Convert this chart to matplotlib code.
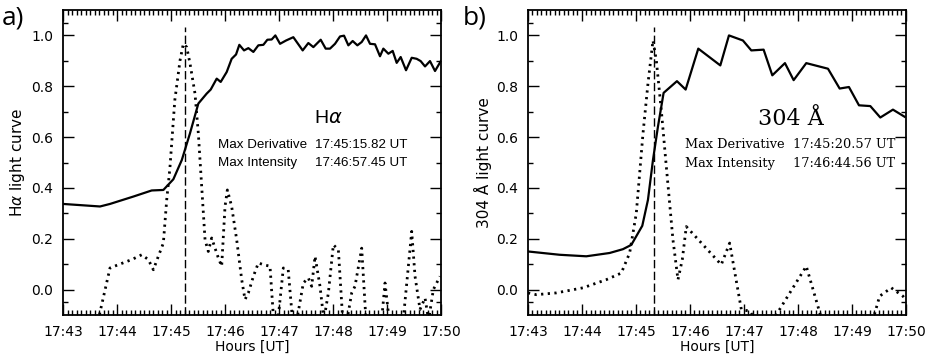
import numpy as np
import matplotlib.pyplot as plt
from matplotlib.ticker import MultipleLocator, FixedLocator

# time in minutes after 17:43 UT
tick_labels = ['17:43', '17:44', '17:45', '17:46', '17:47', '17:48', '17:49', '17:50']

# H-alpha light curve (solid)
ha_t = [0.0, 0.685, 0.870, 1.302, 1.642, 1.858, 2.043, 2.20, 2.35, 2.506, 2.660, 2.735, 2.846,
        2.920, 3.031, 3.123, 3.204, 3.265, 3.352, 3.432, 3.525, 3.617, 3.710, 3.784, 3.864,
        3.932, 4.019, 4.130, 4.265, 4.438, 4.543, 4.636, 4.772, 4.864, 4.944, 5.037, 5.130,
        5.204, 5.284, 5.364, 5.451, 5.531, 5.611, 5.685, 5.778, 5.870, 5.932, 6.025, 6.105,
        6.179, 6.253, 6.352, 6.457, 6.549, 6.623, 6.704, 6.796, 6.889, 6.994]
ha_v = [0.337, 0.327, 0.337, 0.366, 0.390, 0.392, 0.434, 0.51, 0.614, 0.732, 0.771, 0.787, 0.830,
        0.817, 0.856, 0.908, 0.925, 0.963, 0.941, 0.950, 0.935, 0.961, 0.963, 0.983, 0.984,
        1.000, 0.967, 0.980, 0.993, 0.941, 0.970, 0.954, 0.983, 0.948, 0.948, 0.967, 0.996,
        0.999, 0.961, 0.978, 0.961, 0.974, 1.000, 0.967, 0.965, 0.918, 0.948, 0.928, 0.939,
        0.892, 0.915, 0.863, 0.912, 0.908, 0.899, 0.878, 0.899, 0.860, 0.898]

# H-alpha derivative (dotted)
had_t = [0.62, 0.870, 1.025, 1.272, 1.457, 1.580, 1.673, 1.765, 1.858, 1.920, 1.98, 2.07, 2.167,
         2.228, 2.29, 2.352, 2.444, 2.506, 2.568, 2.63, 2.69, 2.753, 2.815, 2.877, 2.938, 3.0,
         3.043, 3.123, 3.216, 3.309, 3.37, 3.432, 3.525, 3.617, 3.71, 3.833, 3.90, 3.98, 4.08,
         4.17, 4.25, 4.33, 4.45, 4.543, 4.605, 4.667, 4.759, 4.83, 4.914, 5.006, 5.099, 5.18,
         5.26, 5.346, 5.407, 5.531, 5.61, 5.70, 5.80, 5.90, 5.963, 6.04, 6.15, 6.30, 6.457,
         6.519, 6.611, 6.704, 6.77, 6.858, 6.981]
had_v = [-0.15, 0.085, 0.098, 0.118, 0.137, 0.118, 0.078, 0.131, 0.183, 0.353, 0.48, 0.745, 0.902,
         0.967, 0.954, 0.889, 0.771, 0.614, 0.405, 0.196, 0.150, 0.203, 0.163, 0.124, 0.092, 0.327,
         0.392, 0.327, 0.196, 0.039, -0.039, -0.013, 0.052, 0.105, 0.098, 0.092, -0.12, -0.12, 0.085,
         0.078, -0.12, -0.12, 0.026, 0.046, 0.013, 0.131, 0.013, -0.12, -0.013, 0.176, 0.157, -0.12,
         -0.12, -0.013, 0.013, 0.163, -0.12, -0.15, -0.15, -0.12, 0.026, -0.12, -0.15, -0.12, 0.229,
         0.052, -0.078, -0.033, -0.12, 0.0, 0.052]

# 304 A light curve (solid)
he_t = [0.0, 0.586, 1.08, 1.512, 1.759, 1.914, 2.117, 2.222, 2.315, 2.407, 2.512, 2.759, 2.920,
        3.154, 3.562, 3.722, 3.981, 4.136, 4.364, 4.525, 4.759, 4.920, 5.154, 5.556, 5.772,
        5.944, 6.130, 6.340, 6.525, 6.759, 6.975]
he_v = [0.150, 0.137, 0.131, 0.144, 0.159, 0.176, 0.251, 0.353, 0.510, 0.641, 0.774, 0.820, 0.787,
        0.948, 0.882, 1.000, 0.980, 0.941, 0.944, 0.843, 0.891, 0.824, 0.891, 0.869, 0.791,
        0.797, 0.725, 0.722, 0.677, 0.708, 0.680]

# 304 A derivative (dotted)
hed_t = [0.0, 0.154, 0.525, 1.019, 1.45, 1.728, 1.883, 2.006, 2.13, 2.222, 2.315, 2.377, 2.469,
         2.562, 2.685, 2.778, 2.858, 2.932, 3.58, 3.735, 3.951, 4.105, 4.25, 4.50, 4.66, 5.154,
         5.43, 5.8, 6.2, 6.42, 6.512, 6.728, 6.944, 7.0]
hed_v = [-0.013, -0.02, -0.013, 0.007, 0.039, 0.065, 0.144, 0.30, 0.614, 0.81, 0.980, 0.902, 0.706,
         0.484, 0.196, 0.039, 0.118, 0.248, 0.098, 0.183, -0.078, -0.085, -0.13, -0.13, -0.078, 0.092,
         -0.11, -0.15, -0.15, -0.095, -0.026, 0.007, -0.026, -0.04]

# max derivative times (seconds after 17:45)
ha_deriv_t = 2 + 15.82 / 60
he_deriv_t = 2 + 20.57 / 60

tick_font = 'DejaVu Sans'
note_font = 'Liberation Sans'
serif_font = 'DejaVu Serif'

fig = plt.figure(figsize=(9.31, 3.61), dpi=100)
ax1 = fig.add_axes([0.0677, 0.1274, 0.406, 0.8449])
ax2 = fig.add_axes([0.5671, 0.1274, 0.406, 0.8449])


def style(ax, ylabel):
    ax.set_xlim(0, 7)
    ax.set_ylim(-0.1, 1.1)
    ax.xaxis.set_minor_locator(MultipleLocator(5 / 60))
    ax.yaxis.set_minor_locator(FixedLocator([-0.05, 0.1, 0.3, 0.5, 0.7, 0.9, 1.05]))
    ax.set_xticks(range(8))
    ax.set_xticklabels(tick_labels)
    ax.set_yticks([0.0, 0.2, 0.4, 0.6, 0.8, 1.0])
    ax.set_yticklabels(['0.0', '0.2', '0.4', '0.6', '0.8', '1.0'])
    ax.tick_params(which='both', direction='in', top=True, right=True, width=1.0)
    ax.tick_params(which='major', length=8, labelsize=10, pad=7)
    ax.tick_params(which='minor', length=3.5)
    for lab in ax.get_xticklabels() + ax.get_yticklabels():
        lab.set_family(tick_font)
    for sp in ax.spines.values():
        sp.set_linewidth(1.3)
    ax.set_xlabel('Hours [UT]', fontsize=10, family=tick_font, labelpad=1)
    ax.set_ylabel(ylabel, fontsize=11, family=tick_font, labelpad=3)


ax1.plot(ha_t, ha_v, color='black', lw=1.6)
ax1.plot(had_t, had_v, color='black', lw=2.0, linestyle=(0, (0.8, 1.6)))
ax1.plot([ha_deriv_t, ha_deriv_t], [-0.1, 1.035], color='black', lw=1.0, linestyle=(0, (6, 2.5)))
style(ax1, r'H$\alpha$ light curve')
ax1.text(4.91, 0.673, r'H$\alpha$', fontsize=14, family=note_font, ha='center', va='center')
ax1.text(2.877, 0.569, 'Max Derivative', fontsize=9.6, family=note_font, va='center')
ax1.text(4.66, 0.569, '17:45:15.82 UT', fontsize=9.6, family=note_font, va='center')
ax1.text(2.877, 0.497, 'Max Intensity', fontsize=9.6, family=note_font, va='center')
ax1.text(4.66, 0.497, '17:46:57.45 UT', fontsize=9.6, family=note_font, va='center')

ax2.plot(he_t, he_v, color='black', lw=1.6)
ax2.plot(hed_t, hed_v, color='black', lw=2.0, linestyle=(0, (0.8, 1.6)))
ax2.plot([he_deriv_t, he_deriv_t], [-0.1, 1.035], color='black', lw=1.0, linestyle=(0, (6, 2.5)))
style(ax2, '304 Å light curve')
ax2.text(4.877, 0.673, '304 Å', fontsize=16, family=serif_font, ha='center', va='center')
ax2.text(2.90, 0.569, 'Max Derivative', fontsize=9.3, family=serif_font, va='center')
ax2.text(4.907, 0.569, '17:45:20.57 UT', fontsize=9.3, family=serif_font, va='center')
ax2.text(2.90, 0.497, 'Max Intensity', fontsize=9.3, family=serif_font, va='center')
ax2.text(4.907, 0.497, '17:46:44.56 UT', fontsize=9.3, family=serif_font, va='center')

fig.text(0.002, 0.985, 'a)', fontsize=19, family='Open Sans', va='top', ha='left')
fig.text(0.497, 0.985, 'b)', fontsize=19, family='Open Sans', va='top', ha='left')

fig.savefig('out.png', dpi=100)
